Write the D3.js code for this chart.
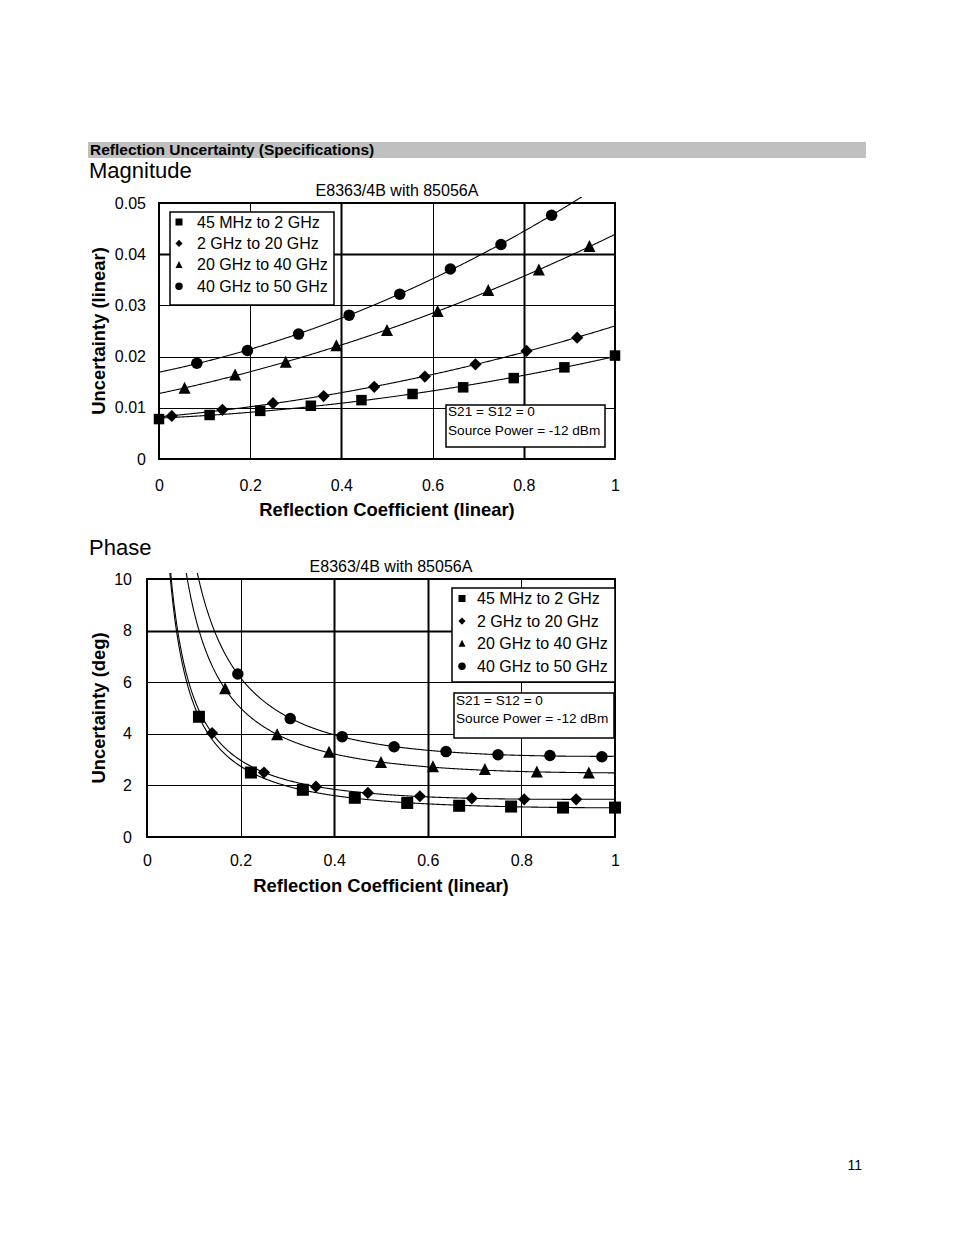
<!DOCTYPE html>
<html><head><meta charset="utf-8">
<script src="https://cdn.jsdelivr.net/npm/d3@7"></script>
<style>
body{margin:0;background:#fff}
svg{display:block}
text{font-family:"Liberation Sans",Arial,Helvetica,sans-serif;fill:#000}
</style>
</head><body>
<svg id="page" width="954" height="1235"></svg>
<script>
// ---------- DATA ----------
const seriesNames = ["45 MHz to 2 GHz", "2 GHz to 20 GHz", "20 GHz to 40 GHz", "40 GHz to 50 GHz"];
const xTicks = [0, 0.2, 0.4, 0.6, 0.8, 1];
const magYTicks = [0, 0.01, 0.02, 0.03, 0.04, 0.05];
const phaseYTicks = [0, 2, 4, 6, 8, 10];

// Magnitude (linear uncertainty vs reflection coefficient)
const magX45 = [0, 0.111, 0.222, 0.333, 0.444, 0.556, 0.667, 0.778, 0.889, 1.0];
const magY45 = [0.0078, 0.0086, 0.0094, 0.0104, 0.0115, 0.0127, 0.0140, 0.0158, 0.0179, 0.0202];
const magX2 = [0.028, 0.139, 0.25, 0.361, 0.472, 0.583, 0.694, 0.806, 0.917];
const magY2 = [0.0084, 0.0096, 0.0109, 0.0123, 0.0141, 0.0161, 0.0185, 0.0211, 0.0237];
const magX20 = [0.056, 0.167, 0.278, 0.389, 0.5, 0.611, 0.722, 0.833, 0.944];
const magY20 = [0.0138, 0.0164, 0.0189, 0.0221, 0.0251, 0.0288, 0.0329, 0.0369, 0.0415];
const magX40 = [0.083, 0.194, 0.306, 0.417, 0.528, 0.639, 0.75, 0.861];
const magY40 = [0.0187, 0.0212, 0.0244, 0.0281, 0.0322, 0.0371, 0.0419, 0.0476];

// Phase (degrees uncertainty vs reflection coefficient)
const phX45 = [0.111, 0.222, 0.333, 0.444, 0.556, 0.667, 0.778, 0.889, 1.0];
const phY45 = [4.66, 2.50, 1.83, 1.52, 1.32, 1.21, 1.18, 1.14, 1.14];
const phX2 = [0.139, 0.25, 0.361, 0.472, 0.583, 0.694, 0.806, 0.917];
const phY2 = [4.03, 2.50, 1.95, 1.71, 1.58, 1.50, 1.46, 1.46];
const phX20 = [0.167, 0.278, 0.389, 0.5, 0.611, 0.722, 0.833, 0.944];
const phY20 = [5.74, 3.96, 3.28, 2.88, 2.72, 2.61, 2.52, 2.48];
const phX40 = [0.194, 0.306, 0.417, 0.528, 0.639, 0.75, 0.861, 0.972];
const phY40 = [6.32, 4.59, 3.89, 3.50, 3.31, 3.19, 3.16, 3.11];

// ---------- HELPERS ----------
function lsq(xs, ys, basis) {
  const n = basis.length;
  const A = Array.from({length: n}, () => Array(n + 1).fill(0));
  xs.forEach((x, i) => {
    const f = basis.map(b => b(x));
    for (let r = 0; r < n; r++) {
      for (let c = 0; c < n; c++) A[r][c] += f[r] * f[c];
      A[r][n] += f[r] * ys[i];
    }
  });
  for (let i = 0; i < n; i++) {
    let p = i;
    for (let r = i + 1; r < n; r++) if (Math.abs(A[r][i]) > Math.abs(A[p][i])) p = r;
    [A[i], A[p]] = [A[p], A[i]];
    for (let r = 0; r < n; r++) {
      if (r === i) continue;
      const f = A[r][i] / A[i][i];
      for (let c = i; c <= n; c++) A[r][c] -= f * A[i][c];
    }
  }
  const coef = A.map((row, i) => row[n] / row[i]);
  return x => basis.reduce((s, b, i) => s + coef[i] * b(x), 0);
}

const svg = d3.select("#page");

// header bar
svg.append("rect").attr("x", 88).attr("y", 142).attr("width", 778).attr("height", 16).attr("fill", "#c0c0c0");
svg.append("text").attr("x", 90).attr("y", 155).attr("font-weight", "bold").attr("font-size", 15.5)
  .text("Reflection Uncertainty (Specifications)");
svg.append("text").attr("x", 862).attr("y", 1170).attr("text-anchor", "end").attr("font-size", 14).text("11");

const squareSym = d3.symbol().type(d3.symbolSquare);
function marker(g, kind, cx, cy, s) {
  if (kind === 0) {
    g.append("rect").attr("x", cx - s / 2).attr("y", cy - s / 2).attr("width", s).attr("height", s).attr("fill", "#000");
  } else if (kind === 1) {
    const d = s * 0.72;
    g.append("path").attr("d", squareSym.size(d * d)()).attr("transform", `translate(${cx},${cy}) rotate(45)`).attr("fill", "#000");
  } else if (kind === 2) {
    g.append("path").attr("d", `M${cx},${cy - s * 0.55}L${cx + s * 0.5},${cy + s * 0.45}L${cx - s * 0.5},${cy + s * 0.45}Z`).attr("fill", "#000");
  } else {
    g.append("circle").attr("cx", cx).attr("cy", cy).attr("r", s / 2).attr("fill", "#000");
  }
}

function drawChart(cfg) {
  const {left, right, top, bottom} = cfg;
  const x = d3.scaleLinear().domain([0, 1]).range([left, right]);
  const y = d3.scaleLinear().domain(cfg.yDomain).range([bottom, top]);
  const g = svg.append("g");

  // section title
  svg.append("text").attr("x", 89).attr("y", cfg.sectionY).attr("font-size", 22).text(cfg.section);
  svg.append("text").attr("x", (left + right) / 2 + 10).attr("y", top - 7).attr("text-anchor", "middle")
    .attr("font-size", 16).text("E8363/4B with 85056A");

  // gridlines
  cfg.yTicks.slice(1, -1).forEach(t => {
    g.append("line").attr("x1", left).attr("x2", right).attr("y1", Math.round(y(t)) + 0.5).attr("y2", Math.round(y(t)) + 0.5)
      .attr("stroke", "#000").attr("stroke-width", cfg.thickY.includes(t) ? 2 : 1);
  });
  xTicks.slice(1, -1).forEach(t => {
    g.append("line").attr("y1", top).attr("y2", bottom).attr("x1", Math.round(x(t)) + 0.5).attr("x2", Math.round(x(t)) + 0.5)
      .attr("stroke", "#000").attr("stroke-width", cfg.thickX.includes(t) ? 2 : 1);
  });
  g.append("rect").attr("x", left).attr("y", top).attr("width", right - left).attr("height", bottom - top)
    .attr("fill", "none").attr("stroke", "#000").attr("stroke-width", 2);

  // axes labels
  const ya = d3.axisLeft(y).tickValues(cfg.yTicks).tickSize(0).tickPadding(cfg.yPad).tickFormat(d => String(d));
  const yg = svg.append("g").attr("transform", `translate(${left},0)`).call(ya);
  yg.select(".domain").remove();
  yg.selectAll("text").attr("font-size", 16).attr("font-family", null);
  const xa = d3.axisBottom(x).tickValues(xTicks).tickSize(0).tickPadding(cfg.xPad).tickFormat(d => String(d));
  const xg = svg.append("g").attr("transform", `translate(0,${bottom})`).call(xa);
  xg.select(".domain").remove();
  xg.selectAll("text").attr("font-size", 16).attr("font-family", null);

  svg.append("text").attr("x", (left + right) / 2).attr("y", bottom + cfg.xTitleOff).attr("text-anchor", "middle")
    .attr("font-weight", "bold").attr("font-size", 18.4).text("Reflection Coefficient (linear)");
  svg.append("text").attr("transform", `translate(${cfg.yTitleX},${(top + bottom) / 2}) rotate(-90)`)
    .attr("text-anchor", "middle").attr("font-weight", "bold").attr("font-size", 18.4).text(cfg.yTitle);

  // clip for trend lines
  const cid = "clip" + cfg.section;
  svg.append("clipPath").attr("id", cid).append("rect")
    .attr("x", left).attr("y", top - 6).attr("width", right - left).attr("height", bottom - top + 6);

  const line = d3.line().x(d => x(d[0])).y(d => y(d[1]));
  cfg.series.forEach((s, i) => {
    const f = lsq(s.xs, s.ys, cfg.basis);
    const pts = d3.range(cfg.x0, 1.0001, 0.002).map(v => [v, f(v)]).filter(p => p[1] < cfg.yDomain[1] * 1.3);
    svg.append("path").attr("d", line(pts)).attr("fill", "none").attr("stroke", "#000").attr("stroke-width", 1.1)
      .attr("clip-path", `url(#${cid})`);
  });
  cfg.series.forEach((s, i) => {
    s.xs.forEach((v, j) => marker(svg, i, x(v), y(s.ys[j]), cfg.msize[i]));
  });

  // legend
  const L = cfg.legend;
  svg.append("rect").attr("x", L.x).attr("y", L.y).attr("width", L.w).attr("height", L.h)
    .attr("fill", "#fff").attr("stroke", "#000").attr("stroke-width", 1.5);
  seriesNames.forEach((name, i) => {
    const cy = L.y + L.first + i * L.step;
    marker(svg, i, L.x + L.mx, cy, i === 3 ? 7.5 : 7);
    svg.append("text").attr("x", L.x + L.tx).attr("y", cy + 5.6).attr("font-size", 16).text(name);
  });
  // note box
  const N = cfg.note;
  svg.append("rect").attr("x", N.x).attr("y", N.y).attr("width", N.w).attr("height", N.h)
    .attr("fill", "#fff").attr("stroke", "#000").attr("stroke-width", 1.5);
  svg.append("text").attr("x", N.x + 2).attr("y", N.y + N.l1).attr("font-size", 13.6).text("S21 = S12 = 0");
  svg.append("text").attr("x", N.x + 2).attr("y", N.y + N.l2).attr("font-size", 13.6).text("Source Power = -12 dBm");
}

drawChart({
  section: "Magnitude", sectionY: 178,
  left: 159, right: 615, top: 203, bottom: 459,
  yDomain: [0, 0.05], yTicks: magYTicks, thickY: [0.04], thickX: [0.4, 0.8],
  yPad: 13, xPad: 21, xTitleOff: 57, yTitleX: 105, yTitle: "Uncertainty (linear)",
  basis: [v => 1, v => v, v => v * v], x0: 0,
  msize: [10.5, 12, 12, 11.5],
  series: [{xs: magX45, ys: magY45}, {xs: magX2, ys: magY2}, {xs: magX20, ys: magY20}, {xs: magX40, ys: magY40}],
  legend: {x: 170, y: 212, w: 164, h: 93, first: 10, step: 21.4, mx: 9, tx: 27},
  note: {x: 446, y: 405, w: 159, h: 42, l1: 10.5, l2: 29.5}
});

drawChart({
  section: "Phase", sectionY: 555,
  left: 147, right: 615, top: 579, bottom: 837,
  yDomain: [0, 10], yTicks: phaseYTicks, thickY: [8], thickX: [0.4, 0.6],
  yPad: 15, xPad: 18, xTitleOff: 55, yTitleX: 105, yTitle: "Uncertainty (deg)",
  basis: [v => 1, v => 1 / v, v => v], x0: 0.03,
  msize: [12, 12, 12, 11.5],
  series: [{xs: phX45, ys: phY45}, {xs: phX2, ys: phY2}, {xs: phX20, ys: phY20}, {xs: phX40, ys: phY40}],
  legend: {x: 452, y: 588, w: 163, h: 94, first: 10.5, step: 22.6, mx: 10, tx: 25},
  note: {x: 454, y: 693, w: 160, h: 45, l1: 12, l2: 30}
});
</script>
</body></html>
